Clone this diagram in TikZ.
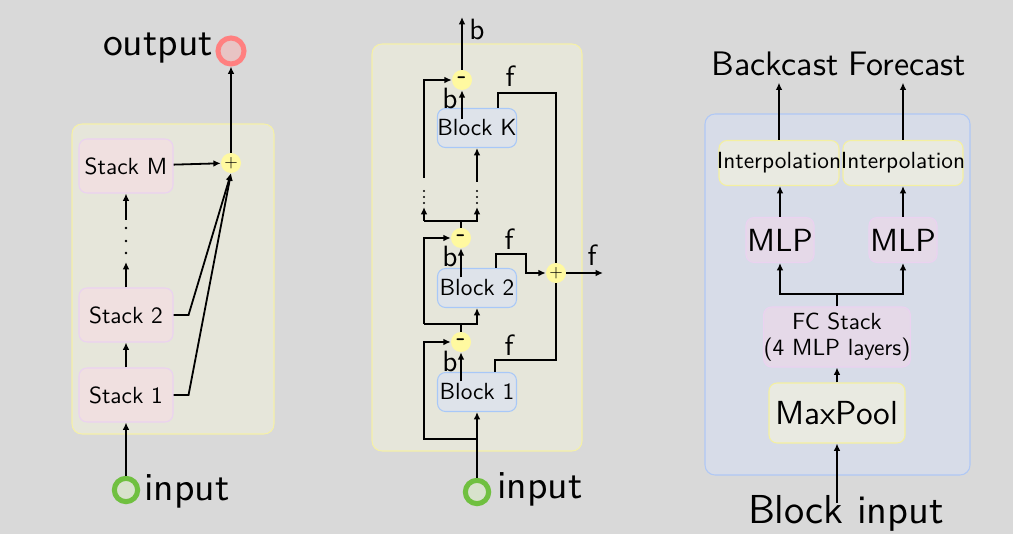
\documentclass[tikz,border=0pt]{standalone}
\usepackage{fontspec}
\setsansfont{lmsans10-regular}[Extension=.otf,BoldFont=lmsans10-bold]
\usetikzlibrary{arrows.meta}
\definecolor{bgcol}{HTML}{D9D9D9}
\definecolor{panelfill}{HTML}{E6E6DA}
\definecolor{panelline}{HTML}{F5F0A8}
\definecolor{stackfill}{HTML}{F0E0E0}
\definecolor{stackline}{HTML}{EBD2F0}
\definecolor{plusfill}{HTML}{FFF9A0}
\definecolor{outline}{HTML}{FF8080}
\definecolor{outfill}{HTML}{E8C4C4}
\definecolor{inline}{HTML}{70C040}
\definecolor{infill}{HTML}{D8E2CC}
\definecolor{blockfill}{HTML}{DEE3EA}
\definecolor{blockline}{HTML}{A8C8F8}
\definecolor{rightfill}{HTML}{D7DCE8}
\definecolor{rightline}{HTML}{B0C8F5}
\definecolor{interpfill}{HTML}{E9EAE1}
\definecolor{interpline}{HTML}{F4F0A0}
\definecolor{mlpfill}{HTML}{E5D9E8}
\definecolor{mlpline}{HTML}{EBD2F0}
\begin{document}
\begin{tikzpicture}[x=0.75pt,y=-0.75pt,font=\sffamily,
    >={Latex[length=5.5pt,width=5pt]},
    line/.style={line width=1.35pt},
    panel/.style={rounded corners=7.5pt,line width=0.8pt},
    box/.style={rounded corners=6pt,line width=0.8pt,inner sep=0pt,font=\sffamily\fontsize{17.5}{19.5}\selectfont},
    stackbox/.style={box,fill=stackfill,draw=stackline,minimum width=70.5pt,minimum height=40.5pt},
    blockbox/.style={box,fill=blockfill,draw=blockline,minimum width=59.25pt,minimum height=29.25pt},
    interpbox/.style={box,fill=interpfill,draw=interpline,minimum width=90pt,minimum height=33.75pt},
    mlpbox/.style={box,fill=mlpfill,draw=mlpline,minimum width=51pt,minimum height=33.75pt,font=\sffamily\fontsize{24}{26}\selectfont},
    plusc/.style={circle,fill=plusfill,inner sep=0pt,minimum size=15pt,font=\sffamily\fontsize{13}{13}\selectfont},
    minusc/.style={plusc,font=\sffamily\bfseries\fontsize{19}{19}\selectfont},
    portc/.style={circle,line width=3.8pt,inner sep=0pt,minimum size=#1},
    lbl/.style={inner sep=0pt,anchor=base,font=\sffamily\fontsize{29.7}{32}\selectfont},
    flbl/.style={inner sep=0pt,anchor=base,font=\sffamily\fontsize{22}{24}\selectfont}]
    % background
    \fill[bgcol] (0,0) rectangle (1013,534);
    \useasboundingbox (0,0) rectangle (1013,534);
    % panels
    \draw[panel,fill=panelfill,draw=panelline] (72,124) rectangle (274,434);
    \draw[panel,fill=panelfill,draw=panelline] (372,44) rectangle (582,451);
    \draw[panel,fill=rightfill,draw=rightline] (705,114) rectangle (970,475);

    % stacks
    \node[stackbox] (s1) at (126,395) {Stack 1};
    \node[stackbox] (s2) at (126,315) {Stack 2};
    \node[stackbox] (sm) at (126,166) {Stack M};
    \node[plusc] (p) at (231,163) {+};
    \node[portc=19.5pt,draw=outline,fill=outfill] (out) at (231,51) {};
    \node[lbl] (outl) at (158,56) {output};
    \node[portc=17.5pt,draw=inline,fill=infill] (in1) at (126,490) {};
    \node[lbl] (in1l) at (187,500) {input};
    \coordinate (d1) at (126,262);
    \coordinate (d2) at (126,220);
    \draw[line,->] (in1) -- (s1);
    \draw[line,->] (s1) -- (s2);
    \draw[line,->] (s2) -- (d1);
    \foreach \y in {228,241,253}
        \fill (126,\y) circle (1.1pt);
    \draw[line,->] (d2) -- (sm);
    \draw[line,->] (sm) -- (p);
    \draw[line,->] (s2.east) -- ++(15,0) -- (p.south);
    \draw[line,->] (s1.east) -- ++(15,0) -- (p.south);
    \draw[line,->] (p) -- (out);

    % blocks
    \node[blockbox] (b1) at (477,392) {Block 1};
    \node[blockbox] (b2) at (477,288) {Block 2};
    \node[blockbox] (bk) at (477,128) {Block K};
    \node[minusc] (m1) at (461,342) {-};
    \node[minusc] (m2) at (461,238) {-};
    \node[minusc] (mk) at (462,80) {-};
    \node[plusc] (pf) at (556,273) {+};
    \node[portc=17.5pt,draw=inline,fill=infill] (in2) at (477,492) {};
    \node[lbl] (in2l) at (540,498) {input};
    % residual paths
    \coordinate (j1) at (477,439);
    \coordinate (l1) at (424,439);
    \draw[line,->] (in2) -- (b1);
    \draw[line,->] (j1) -- (l1) |- (m1);
    \coordinate (j2) at (461,324);
    \coordinate (l2) at (424,324);
    \coordinate (r2) at (477,324);
    \draw[line] (m1) -- (j2);
    \draw[line,->] (l2) -- (r2) -- (b2);
    \draw[line,->] (l2) |- (m2);
    \coordinate (j3) at (461,221);
    \coordinate (l3) at (424,221);
    \coordinate (r3) at (477,221);
    \draw[line] (m2) -- (j3);
    \draw[line,->] (l3) -- (r3) -- ++(0,-14);
    \draw[line,->] (l3) -- ++(0,-14);
    \foreach \x in {424,477}
        \foreach \y in {191,197,203}
            \fill (\x,\y) circle (0.9pt);
    \coordinate (l4) at (424,178);
    \coordinate (r4) at (477,182);
    \draw[line,->] (l4) |- (mk);
    \draw[line,->] (r4) -- (bk);
    % backcasts
    \draw[line,->] ([yshift=-7pt]b1.north -| m1) -- (m1);
    \node[flbl] (b1b) at (450,372) {b};
    \draw[line,->] ([yshift=-7pt]b2.north -| m2) -- (m2);
    \node[flbl] (b2b) at (450,267) {b};
    \draw[line,->] ([yshift=-8pt]bk.north -| mk) -- (mk);
    \node[flbl] (bkb) at (450,109) {b};
    \coordinate (bout) at (462,17);
    \draw[line,->] (mk) -- (bout);
    \node[flbl] (boutl) at (477,40) {b};
    % forecasts
    \draw[line] ([xshift=15.75pt]bk.north) |- (556,93) -- (pf);
    \node[flbl] (bkf) at (510,87) {f};
    \draw[line,->] ([xshift=14.25pt]b2.north) |- (526,254) |- (pf);
    \node[flbl] (b2f) at (509,250) {f};
    \draw[line] ([xshift=13.5pt]b1.north) |- (556,360) -- (pf);
    \node[flbl] (b1f) at (509,355) {f};
    \coordinate (fout) at (603,273);
    \draw[line,->] (pf) -- (fout);
    \node[flbl] (foutl) at (592,266) {f};

    % block internals
    \node[box,fill=interpfill,draw=interpline,minimum width=102pt,minimum height=45pt,font=\sffamily\fontsize{25}{27}\selectfont] (mp) at (837,413) {MaxPool};
    \node[box,fill=mlpfill,draw=mlpline,minimum width=102pt,minimum height=45pt,align=center] (fc) at (837,337) {FC Stack\\(4 MLP layers)};
    \node[mlpbox] (mb) at (780,240) {MLP};
    \node[mlpbox] (mf) at (903,240) {MLP};
    \node[interpbox] (ib) at (779,163) {\makebox[80pt]{Interpolation}};
    \node[interpbox] (if) at (903,163) {\makebox[80pt]{Interpolation}};
    \node[lbl,font=\sffamily\fontsize{25.5}{27}\selectfont] (bcl) at (775,76) {Backcast};
    \node[lbl,font=\sffamily\fontsize{25.5}{27}\selectfont] (fcl) at (907,76) {Forecast};
    \node[lbl,font=\sffamily\fontsize{30.3}{32}\selectfont] (binl) at (846,523) {Block input};
    \coordinate (bi) at (837,503);
    \coordinate (fj) at (837,294);
    \draw[line,->] (bi) -- (mp);
    \draw[line,->] (mp) -- (fc);
    \draw[line] (fc) -- (fj);
    \draw[line,->] (fj) -| (mb);
    \draw[line,->] (fj) -| (mf);
    \draw[line,->] (mb) -- (mb |- ib.south);
    \draw[line,->] (mf) -- (if);
    \draw[line,->,shorten >=4.5pt] (ib) -- (ib |- bcl.south);
    \draw[line,->,shorten >=4.5pt] (if) -- (if |- fcl.south);
\end{tikzpicture}
\end{document}
